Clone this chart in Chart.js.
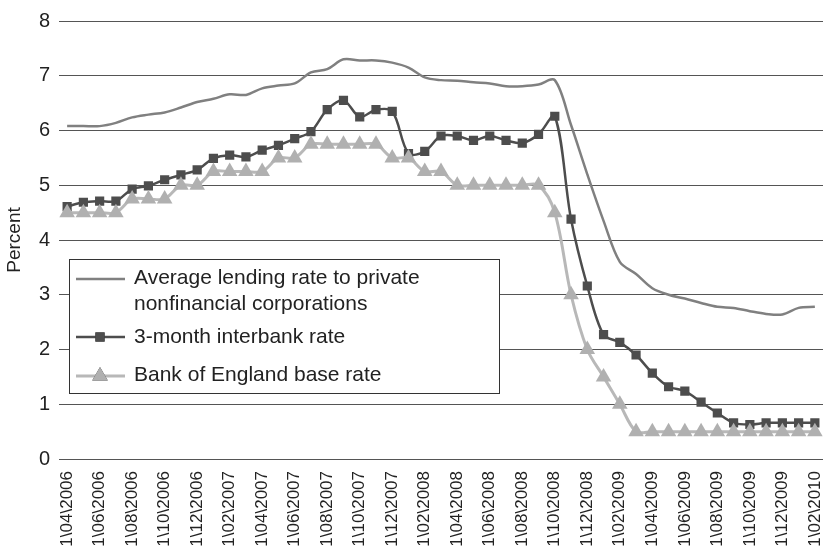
<!DOCTYPE html>
<html>
<head>
<meta charset="utf-8">
<script src="https://cdn.jsdelivr.net/npm/chart.js@4"></script>
<style>
  body { margin: 0; background: #fff; }
</style>
</head>
<body>
<canvas id="rates" width="832" height="554"></canvas>
<script>
// monthly, Apr 2006 .. Feb 2010
var months = [
    '1\\04\\2006', '1\\05\\2006', '1\\06\\2006', '1\\07\\2006', '1\\08\\2006', '1\\09\\2006',
    '1\\10\\2006', '1\\11\\2006', '1\\12\\2006', '1\\01\\2007', '1\\02\\2007', '1\\03\\2007',
    '1\\04\\2007', '1\\05\\2007', '1\\06\\2007', '1\\07\\2007', '1\\08\\2007', '1\\09\\2007',
    '1\\10\\2007', '1\\11\\2007', '1\\12\\2007', '1\\01\\2008', '1\\02\\2008', '1\\03\\2008',
    '1\\04\\2008', '1\\05\\2008', '1\\06\\2008', '1\\07\\2008', '1\\08\\2008', '1\\09\\2008',
    '1\\10\\2008', '1\\11\\2008', '1\\12\\2008', '1\\01\\2009', '1\\02\\2009', '1\\03\\2009',
    '1\\04\\2009', '1\\05\\2009', '1\\06\\2009', '1\\07\\2009', '1\\08\\2009', '1\\09\\2009',
    '1\\10\\2009', '1\\11\\2009', '1\\12\\2009', '1\\01\\2010', '1\\02\\2010'
];

var lendingRate = [
    6.08, 6.08, 6.08, 6.14, 6.24, 6.29, 6.33, 6.42, 6.52, 6.58, 6.66, 6.65,
    6.77, 6.82, 6.86, 7.06, 7.12, 7.30, 7.28, 7.28, 7.24, 7.15, 6.97, 6.92,
    6.91, 6.88, 6.86, 6.81, 6.81, 6.84, 6.92, 6.10, 5.20, 4.35, 3.60, 3.38,
    3.12, 3.00, 2.93, 2.85, 2.78, 2.76, 2.70, 2.65, 2.64, 2.76, 2.78
];

var interbankRate = [
    4.61, 4.69, 4.71, 4.71, 4.93, 4.99, 5.10, 5.19, 5.28, 5.49, 5.55, 5.52,
    5.64, 5.73, 5.85, 5.98, 6.38, 6.55, 6.25, 6.38, 6.35, 5.58, 5.62, 5.90,
    5.90, 5.82, 5.90, 5.82, 5.77, 5.93, 6.26, 4.38, 3.16, 2.27, 2.13, 1.90,
    1.57, 1.32, 1.24, 1.04, 0.84, 0.66, 0.63, 0.66, 0.66, 0.66, 0.66
];

var baseRate = [
    4.5, 4.5, 4.5, 4.5, 4.75, 4.75, 4.75, 5, 5, 5.25, 5.25, 5.25,
    5.25, 5.5, 5.5, 5.75, 5.75, 5.75, 5.75, 5.75, 5.5, 5.5, 5.25, 5.25,
    5, 5, 5, 5, 5, 5, 4.5, 3, 2, 1.5, 1, 0.5,
    0.5, 0.5, 0.5, 0.5, 0.5, 0.5, 0.5, 0.5, 0.5, 0.5, 0.5
];

var seriesNames = [
    ['Average lending rate to private', 'nonfinancial corporations'],
    ['3-month interbank rate'],
    ['Bank of England base rate']
];

var FONT = "'Liberation Sans', Arial, sans-serif";

// legend box sits inside the plot, drawn by hand
var boxLegend = {
    id: 'boxLegend',
    afterDraw: function (chart) {
        var ctx = chart.ctx;
        ctx.save();
        ctx.fillStyle = '#fff';
        ctx.fillRect(69, 259, 430, 134);
        ctx.strokeStyle = '#333';
        ctx.lineWidth = 1;
        ctx.strokeRect(69.5, 259.5, 430, 134);

        var rows = [279, 337, 376];
        var textRows = [[278, 304], [337], [375]];
        chart.data.datasets.forEach(function (ds, i) {
            var y = rows[i];
            ctx.strokeStyle = ds.borderColor;
            ctx.lineWidth = ds.borderWidth;
            ctx.beginPath();
            ctx.moveTo(76, y);
            ctx.lineTo(125, y);
            ctx.stroke();
            if (ds.pointRadius > 0) {
                Chart.helpers.drawPoint(ctx, {
                    pointStyle: ds.pointStyle,
                    radius: ds.pointRadius,
                    borderWidth: 0
                }, 100, y);
                ctx.fillStyle = ds.pointBackgroundColor;
                ctx.fill();
            }
            ctx.fillStyle = '#222';
            ctx.font = '21px ' + FONT;
            ctx.textAlign = 'left';
            ctx.textBaseline = 'middle';
            seriesNames[i].forEach(function (t, k) {
                ctx.fillText(t, 134, textRows[i][k]);
            });
        });
        ctx.restore();
    }
};

var ratesChart = new Chart(document.getElementById('rates'), {
    type: 'line',
    data: {
        labels: months,
        datasets: [{
            label: seriesNames[0].join(' '),
            data: lendingRate,
            borderColor: '#808080',
            borderWidth: 2.5,
            pointRadius: 0,
            tension: 0.33,
            order: 3
        }, {
            label: seriesNames[1][0],
            data: interbankRate,
            borderColor: '#4d4d4d',
            borderWidth: 2.5,
            pointStyle: 'rect',
            pointRadius: 6.5,
            pointBorderWidth: 0,
            pointBackgroundColor: '#4d4d4d',
            tension: 0.33,
            order: 2
        }, {
            label: seriesNames[2][0],
            data: baseRate,
            borderColor: '#b8b8b8',
            borderWidth: 3,
            pointStyle: 'triangle',
            pointRadius: 9,
            pointBorderWidth: 0,
            pointBackgroundColor: '#b0b0b0',
            tension: 0.33,
            order: 1
        }]
    },
    options: {
        responsive: false,
        animation: false,
        layout: { padding: { top: 14, right: 3, left: 0, bottom: 0 } },
        plugins: {
            legend: { display: false },
            tooltip: { enabled: false }
        },
        scales: {
            x: {
                offset: true,
                grid: { display: false, drawTicks: false },
                border: { display: false },
                ticks: {
                    autoSkip: false,
                    minRotation: 90,
                    maxRotation: 90,
                    padding: 12,
                    color: '#222',
                    font: { family: FONT, size: 17 },
                    callback: function (v, i) { return i % 2 === 0 ? months[i] : null; }
                },
                afterFit: function (scale) {
                    scale.height = 95;
                    scale.paddingLeft = 0;
                    scale.paddingRight = 0;
                }
            },
            y: {
                min: 0,
                max: 8,
                ticks: {
                    stepSize: 1,
                    padding: 9,
                    color: '#222',
                    font: { family: FONT, size: 20 }
                },
                grid: { color: '#555', lineWidth: 1, drawTicks: false },
                border: { display: false },
                title: {
                    display: true,
                    text: 'Percent',
                    color: '#222',
                    padding: { top: 3, bottom: 0 },
                    font: { family: FONT, size: 19 }
                },
                afterFit: function (scale) { scale.width = 59; }
            }
        }
    },
    plugins: [boxLegend]
});
</script>
</body>
</html>
